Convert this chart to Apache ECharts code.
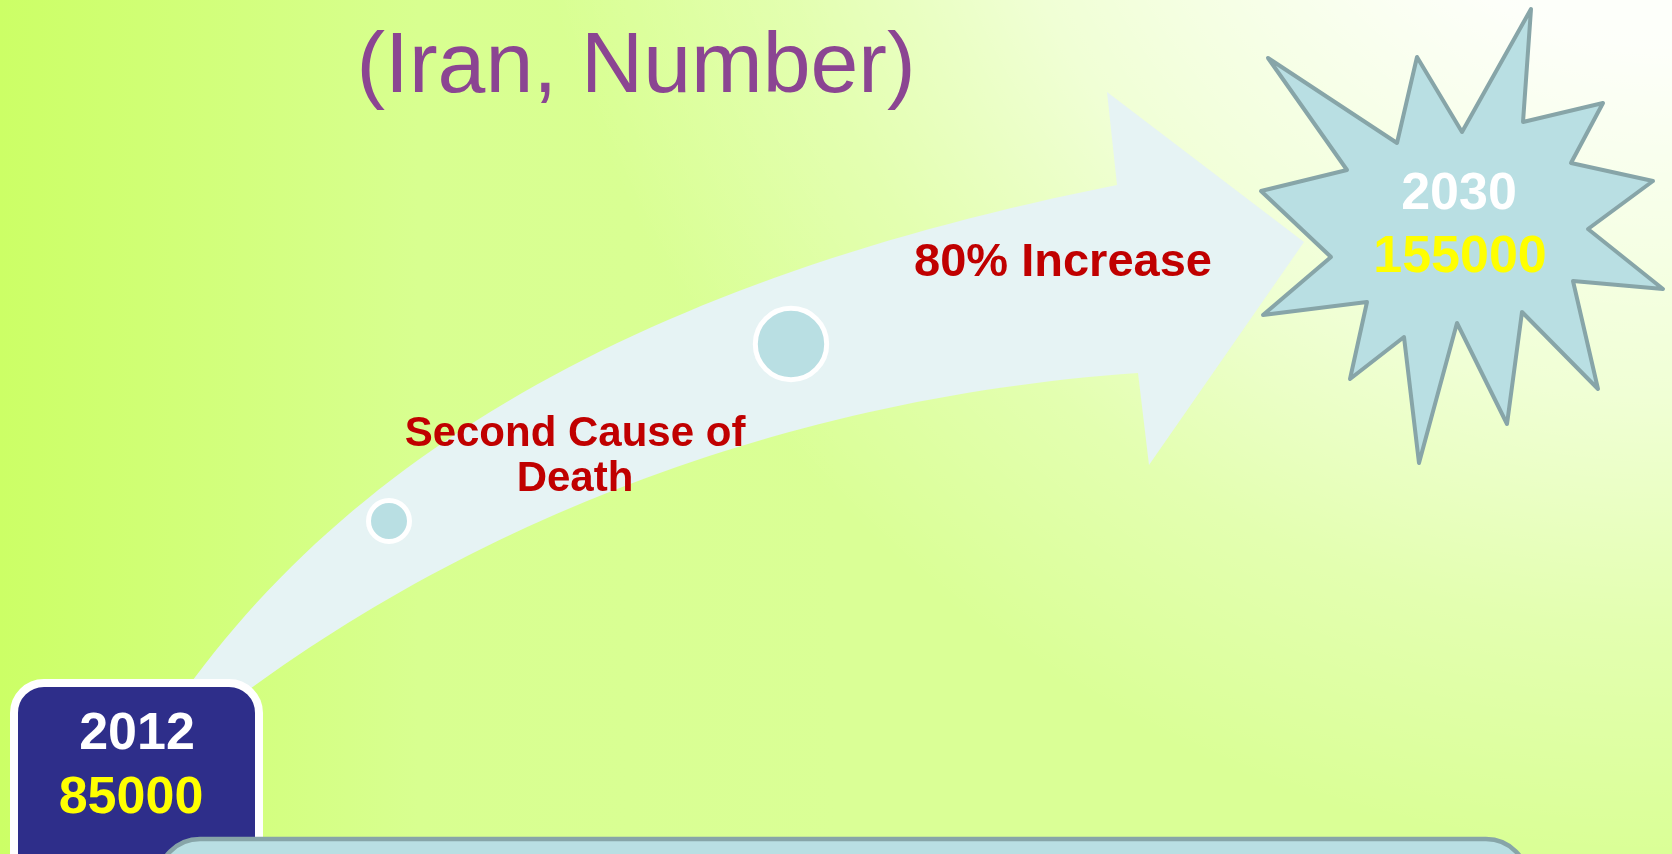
<!DOCTYPE html>
<html>
<head>
<meta charset="utf-8">
<script src="https://cdn.jsdelivr.net/npm/echarts@6/dist/echarts.min.js"></script>
<style>
html,body{margin:0;padding:0;background:#ccff66;}
#main{width:1672px;height:854px;}
</style>
</head>
<body>
<div id="main"></div>
<script>
// ---- data ----
const titleText = '(Iran, Number)';
const years = ['2012', '2030'];
const counts = [85000, 155000];
const notes = ['Second Cause of\nDeath', '80% Increase'];

const FONT = '"Liberation Sans", Arial, sans-serif';
const chart = echarts.init(document.getElementById('main'), null, {renderer: 'canvas'});

function bez(p0, p1, p2, p3, n) {
  const out = [];
  for (let i = 0; i <= n; i++) {
    const t = i / n, u = 1 - t;
    out.push([
      u*u*u*p0[0] + 3*u*u*t*p1[0] + 3*u*t*t*p2[0] + t*t*t*p3[0],
      u*u*u*p0[1] + 3*u*u*t*p1[1] + 3*u*t*t*p2[1] + t*t*t*p3[1]
    ]);
  }
  return out;
}
const arrowPts = []
  .concat(bez([175,705],[363,434],[680,272],[1117,185],60))
  .concat([[1107,92],[1304,242],[1149,465]])
  .concat(bez([1138,373],[790,397],[475,520],[235,700],60));

const starPts = [
  [1268,58],[1397,143],[1417,57],[1462,132],[1531,9],[1523,122],[1603,103],[1571,163],
  [1653,181],[1588,229],[1663,289],[1573,281],[1598,389],[1522,312],[1507,424],[1457,323],
  [1419,463],[1404,337],[1350,379],[1367,302],[1263,315],[1331,257],[1261,191],[1347,170]
];

const graphic = [
  {type:'rect', z:0, shape:{x:0,y:0,width:1672,height:854},
   style:{fill:{type:'linear',x:0,y:0,x2:1,y2:0,colorStops:[
     {offset:0,color:'#ccff66'},{offset:0.25,color:'#d8ff90'},{offset:0.5,color:'#daff96'},{offset:1,color:'#daff96'}]}}},
  {type:'rect', z:0, shape:{x:0,y:0,width:1672,height:854},
   style:{fill:{type:'radial',x:1672,y:-300,r:1160,global:true,colorStops:[
     {offset:0,color:'rgba(255,255,255,1)'},{offset:0.3,color:'rgba(255,255,255,0.95)'},
     {offset:0.6,color:'rgba(255,255,255,0.6)'},{offset:0.8,color:'rgba(255,255,255,0.25)'},
     {offset:1,color:'rgba(255,255,255,0)'}]}}},
  {type:'polygon', z:1, shape:{points:arrowPts}, style:{fill:'#e6f3f4'}},
  {type:'circle', z:2, shape:{cx:389,cy:521,r:20.5}, style:{fill:'#b9dfe3',stroke:'#ffffff',lineWidth:5}},
  {type:'circle', z:2, shape:{cx:791,cy:344,r:35.7}, style:{fill:'#b9dfe3',stroke:'#ffffff',lineWidth:5}},
  {type:'text', z:5, x:636, y:68,
   style:{text:titleText, fill:'#8b4592', font:'86px '+FONT, textAlign:'center', textVerticalAlign:'middle'}},
  {type:'text', z:5, x:575, y:412,
   style:{text:notes[0], fill:'#c00000', font:'bold 42px '+FONT, lineHeight:45, textAlign:'center', textVerticalAlign:'top'}},
  {type:'text', z:5, x:1063, y:263,
   style:{text:notes[1], fill:'#c00000', font:'bold 47px '+FONT, textAlign:'center', textVerticalAlign:'middle'}},
  {type:'polygon', z:3, shape:{points:starPts},
   style:{fill:'#b9dfe3', stroke:'#87a5a8', lineWidth:4, lineJoin:'round'}},
  {type:'text', z:5, x:1459, y:195,
   style:{text:years[1], fill:'#ffffff', font:'bold 52px '+FONT, textAlign:'center', textVerticalAlign:'middle'}},
  {type:'text', z:5, x:1460, y:258,
   style:{text:String(counts[1]), fill:'#ffff00', font:'bold 52px '+FONT, textAlign:'center', textVerticalAlign:'middle'}},
  {type:'rect', z:6, shape:{x:14,y:683,width:245,height:220,r:30},
   style:{fill:'#2e2e8a', stroke:'#ffffff', lineWidth:8}},
  {type:'text', z:7, x:137, y:735,
   style:{text:years[0], fill:'#ffffff', font:'bold 52px '+FONT, textAlign:'center', textVerticalAlign:'middle'}},
  {type:'text', z:7, x:131, y:799,
   style:{text:String(counts[0]), fill:'#ffff00', font:'bold 52px '+FONT, textAlign:'center', textVerticalAlign:'middle'}},
  {type:'rect', z:8, shape:{x:158,y:839,width:1370,height:120,r:42},
   style:{fill:'#b9dfe3', stroke:'#87a5a8', lineWidth:4.5}}
];

chart.setOption({animation:false, graphic: graphic});
</script>
</body>
</html>
